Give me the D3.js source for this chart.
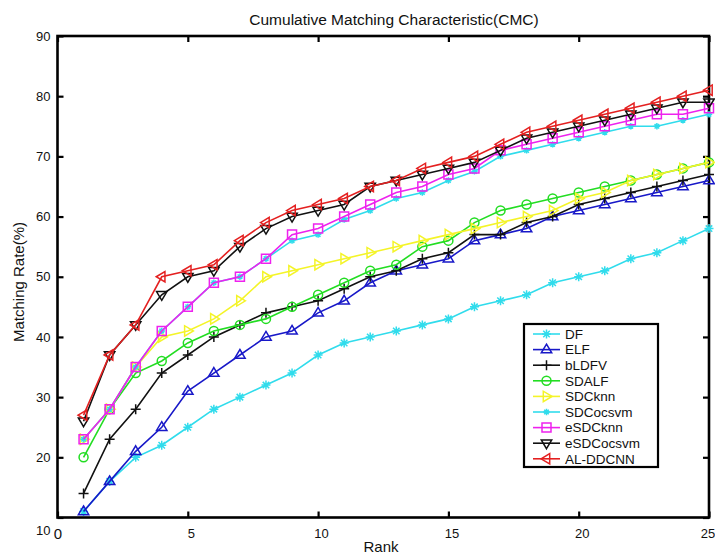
<!DOCTYPE html>
<html>
<head>
<meta charset="utf-8">
<script src="https://cdn.jsdelivr.net/npm/d3@7"></script>
<style>
  html, body { margin: 0; padding: 0; background: #fff; }
  svg { display: block; font-family: "Liberation Sans", Arial, sans-serif; }
</style>
</head>
<body>
<svg id="chart" width="715" height="555"></svg>
<script>
// Rank axis (1..25) and tick labels
const ranks = d3.range(1, 26);
const xTicks = [0, 5, 10, 15, 20, 25];
const yTicks = [10, 20, 30, 40, 50, 60, 70, 80, 90];

// Matching rate (%) of each method at ranks 1..25
const seriesNames = ["DF", "ELF", "bLDFV", "SDALF", "SDCknn", "SDCocsvm", "eSDCknn", "eSDCocsvm", "AL-DDCNN"];
const DF        = [11,16,20,22,25,28,30,32,34,37,39,40,41,42,43,45,46,47,49,50,51,53,54,56,58];
const ELF       = [11,16,21,25,31,34,37,40,41,44,46,49,51,52,53,56,57,58,60,61,62,63,64,65,66];
const bLDFV     = [14,23,28,34,37,40,42,44,45,46,48,50,51,53,54,57,57,59,60,62,63,64,65,66,67];
const SDALF     = [20,28,34,36,39,41,42,43,45,47,49,51,52,55,56,59,61,62,63,64,65,66,67,68,69];
const SDCknn    = [23,28,35,40,41,43,46,50,51,52,53,54,55,56,57,58,59,60,61,63,64,66,67,68,69];
const SDCocsvm  = [23,28,35,41,45,49,50,53,56,57,59.5,61,63,64,66,67.5,70,71,72,73,74,75,75,76,77];
const eSDCknn   = [23,28,35,41,45,49,50,53,57,58,60,62,64,65,67,68,71,72,73,74,75,76,77,77,78];
const eSDCocsvm = [26,37,42,47,50,51,55,58,60,61,62,65,66,67,68,69,71,73,74,75,76,77,78,79,79];
const ALDDCNN   = [27,37,42,50,51,52,56,59,61,62,63,65,66,68,69,70,72,74,75,76,77,78,79,80,81];

const seriesValues = [DF, ELF, bLDFV, SDALF, SDCknn, SDCocsvm, eSDCknn, eSDCocsvm, ALDDCNN];
const seriesColors = ["#30dcec", "#1818c8", "#111111", "#22dd22", "#f4f428", "#30dcec", "#ee22ee", "#111111", "#e42020"];
const seriesMarkers = ["star", "triUp", "plus", "circle", "triRight", "starSmall", "square", "triDown", "triLeft"];

const svg = d3.select("#chart");
const x = d3.scaleLinear().domain([0, 25]).range([57.5, 709]);
const y = d3.scaleLinear().domain([10, 90]).range([517.5, 36]);

// Marker outlines centred on (0,0)
function markerPath(type) {
  const p = d3.path();
  switch (type) {
    case "star": {
      const r = 4.5, d = r * 0.72;
      p.moveTo(-r, 0); p.lineTo(r, 0);
      p.moveTo(0, -r); p.lineTo(0, r);
      p.moveTo(-d, -d); p.lineTo(d, d);
      p.moveTo(-d, d); p.lineTo(d, -d);
      break;
    }
    case "starSmall": {
      const r = 3.2, d = r * 0.72;
      p.moveTo(-r, 0); p.lineTo(r, 0);
      p.moveTo(0, -r); p.lineTo(0, r);
      p.moveTo(-d, -d); p.lineTo(d, d);
      p.moveTo(-d, d); p.lineTo(d, -d);
      break;
    }
    case "plus":
      p.moveTo(-5, 0); p.lineTo(5, 0);
      p.moveTo(0, -5); p.lineTo(0, 5);
      break;
    case "circle":
      p.moveTo(4.5, 0); p.arc(0, 0, 4.5, 0, 2 * Math.PI);
      break;
    case "square":
      p.rect(-4.5, -4.5, 9, 9);
      break;
    case "triUp":
      p.moveTo(0, -5.5); p.lineTo(5.2, 3.2); p.lineTo(-5.2, 3.2); p.closePath();
      break;
    case "triDown":
      p.moveTo(0, 5.5); p.lineTo(5.2, -3.2); p.lineTo(-5.2, -3.2); p.closePath();
      break;
    case "triRight":
      p.moveTo(5.5, 0); p.lineTo(-3.2, -5.2); p.lineTo(-3.2, 5.2); p.closePath();
      break;
    case "triLeft":
      p.moveTo(-5.5, 0); p.lineTo(3.2, -5.2); p.lineTo(3.2, 5.2); p.closePath();
      break;
  }
  return p.toString();
}

// Axes: ticks point inward on all four sides of the box
const tickLen = 6;
const axisFont = 13;

const gBottom = svg.append("g").attr("transform", `translate(0,${y(10)})`)
  .call(d3.axisBottom(x).tickValues(xTicks).tickSize(-tickLen).tickPadding(11).tickFormat(d3.format("d")));
const gTop = svg.append("g").attr("transform", `translate(0,${y(90)})`)
  .call(d3.axisTop(x).tickValues(xTicks).tickSize(-tickLen).tickFormat(""));
const gLeft = svg.append("g").attr("transform", `translate(${x(0)},0)`)
  .call(d3.axisLeft(y).tickValues(yTicks).tickSize(-tickLen).tickPadding(7).tickFormat(d3.format("d")));
const gRight = svg.append("g").attr("transform", `translate(${x(25)},0)`)
  .call(d3.axisRight(y).tickValues(yTicks).tickSize(-tickLen).tickFormat(""));

[gBottom, gTop, gLeft, gRight].forEach(g => {
  g.select(".domain").remove();
  g.selectAll(".tick line").attr("stroke", "#000").attr("stroke-width", 2.2);
  g.selectAll(".tick text").attr("fill", "#111").style("font-size", axisFont + "px")
    .style("font-family", '"Liberation Sans", Arial, sans-serif');
});
gBottom.selectAll(".tick text").attr("dx", 3);
gBottom.selectAll(".tick text").filter(d => d === 0).attr("dx", 0).style("font-size", "15px");
gBottom.selectAll(".tick text").filter(d => d === 25).attr("dx", -1.5);
// the lowest y label sits below its tick, next to the x origin label
gLeft.selectAll(".tick text").filter(d => d === 10).attr("dy", "1.3em").attr("dx", 0);

// Box around the plot area
svg.append("rect")
  .attr("x", x(0)).attr("y", y(90))
  .attr("width", x(25) - x(0)).attr("height", y(10) - y(90))
  .attr("fill", "none").attr("stroke", "#000").attr("stroke-width", 2.6);

// Series lines and markers
const line = d3.line().x((d, i) => x(ranks[i])).y(d => y(d));
seriesNames.forEach((name, k) => {
  const g = svg.append("g").attr("class", "series");
  g.append("path").datum(seriesValues[k])
    .attr("d", line).attr("fill", "none")
    .attr("stroke", seriesColors[k]).attr("stroke-width", 1.6);
  g.selectAll("path.mk").data(seriesValues[k]).enter().append("path")
    .attr("class", "mk")
    .attr("transform", (d, i) => `translate(${x(ranks[i])},${y(d)})`)
    .attr("d", markerPath(seriesMarkers[k]))
    .attr("fill", "none").attr("stroke", seriesColors[k]).attr("stroke-width", 1.5);
});

// Titles
svg.append("text").attr("x", 394).attr("y", 25).attr("text-anchor", "middle")
  .style("font-size", "15.5px").attr("fill", "#111")
  .text("Cumulative Matching Characteristic(CMC)");
svg.append("text").attr("x", 381).attr("y", 552).attr("text-anchor", "middle")
  .style("font-size", "15px").attr("fill", "#111").text("Rank");
svg.append("text").attr("transform", "translate(24,282) rotate(-90)").attr("text-anchor", "middle")
  .style("font-size", "15px").attr("fill", "#111").text("Matching Rate(%)");

// Legend
const lg = svg.append("g");
lg.append("rect").attr("x", 524).attr("y", 324).attr("width", 134).attr("height", 143)
  .attr("fill", "#fff").attr("stroke", "#000").attr("stroke-width", 2.2);
const rowY = i => 334 + i * 15.6;
seriesNames.forEach((name, k) => {
  const ry = rowY(k);
  lg.append("line").attr("x1", 533).attr("x2", 560).attr("y1", ry).attr("y2", ry)
    .attr("stroke", seriesColors[k]).attr("stroke-width", 1.6);
  lg.append("path").attr("transform", `translate(546.5,${ry})`).attr("d", markerPath(seriesMarkers[k]))
    .attr("fill", "none").attr("stroke", seriesColors[k]).attr("stroke-width", 1.5);
  lg.append("text").attr("x", 565).attr("y", ry).attr("dy", "0.36em")
    .style("font-size", "13.5px").attr("fill", "#111").text(name);
});
</script>
</body>
</html>
